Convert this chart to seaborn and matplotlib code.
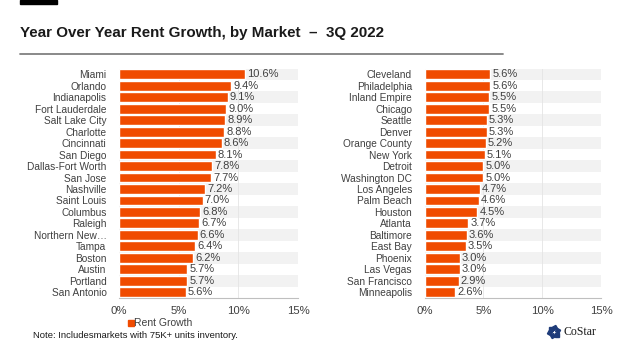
import matplotlib.pyplot as plt
import matplotlib.patches as mpatches
import seaborn as sns
import pandas as pd
import numpy as np

sns.set_style("white")
plt.rcParams['font.family'] = ['Liberation Sans', 'DejaVu Sans']

# dados
mercados_esq = ["Miami", "Orlando", "Indianapolis", "Fort Lauderdale", "Salt Lake City",
                "Charlotte", "Cincinnati", "San Diego", "Dallas-Fort Worth", "San Jose",
                "Nashville", "Saint Louis", "Columbus", "Raleigh", "Northern New\u2026",
                "Tampa", "Boston", "Austin", "Portland", "San Antonio"]
valores_esq = [10.6, 9.4, 9.1, 9.0, 8.9, 8.8, 8.6, 8.1, 7.8, 7.7,
               7.2, 7.0, 6.8, 6.7, 6.6, 6.4, 6.2, 5.7, 5.7, 5.6]

mercados_dir = ["Cleveland", "Philadelphia", "Inland Empire", "Chicago", "Seattle",
                "Denver", "Orange County", "New York", "Detroit", "Washington DC",
                "Los Angeles", "Palm Beach", "Houston", "Atlanta", "Baltimore",
                "East Bay", "Phoenix", "Las Vegas", "San Francisco", "Minneapolis"]
valores_dir = [5.6, 5.6, 5.5, 5.5, 5.3, 5.3, 5.2, 5.1, 5.0, 5.0,
               4.7, 4.6, 4.5, 3.7, 3.6, 3.5, 3.0, 3.0, 2.9, 2.6]

xticks = [0, 5, 10, 15]
cor_barra = "#F04B00"
cor_texto = "#404040"

fig = plt.figure(figsize=(6.24, 3.51), dpi=100)
ax1 = fig.add_axes([119/624, 1 - 298/351, 179/624, 229.5/351])
ax2 = fig.add_axes([424.5/624, 1 - 298/351, 176.5/624, 229.5/351])


def painel(ax, mercados, valores):
    df = pd.DataFrame({"mercado": mercados, "valor": valores})
    n = len(df)
    # faixas alternadas
    for i in range(0, n, 2):
        ax.axhspan(i - 0.5, i + 0.5, color="#F2F2F2", zorder=0, lw=0)
    for x in xticks[1:]:
        ax.axvline(x, color="#E4E4E4", lw=0.6, zorder=0.5)
    sns.barplot(data=df, x="valor", y="mercado", orient="h", color=cor_barra,
                width=0.86, saturation=1, ax=ax, zorder=2)
    ax.bar_label(ax.containers[0], labels=[f"{v:.1f}%" for v in valores],
                 padding=1.5, fontsize=8, color=cor_texto)
    ax.set_xlim(0, 15)
    ax.set_ylim(n - 0.5, -0.5)
    ax.set_xticks(xticks)
    ax.set_xticklabels([f"{x}%" for x in xticks])
    ax.set_xlabel("")
    ax.set_ylabel("")
    ax.tick_params(axis="y", length=0, pad=9, labelsize=7.3, labelcolor=cor_texto)
    ax.tick_params(axis="x", length=3, width=0.6, color="#BFBFBF", pad=2.5,
                   labelsize=8.2, labelcolor=cor_texto)
    for lado in ["top", "right", "left"]:
        ax.spines[lado].set_visible(False)
    ax.spines["bottom"].set_color("#BFBFBF")
    ax.spines["bottom"].set_linewidth(0.8)


painel(ax1, mercados_esq, valores_esq)
painel(ax2, mercados_dir, valores_dir)

# titulo e decoracao
fig.text(20/624, 1 - 37/351, "Year Over Year Rent Growth, by Market  \u2013  3Q 2022",
         fontsize=10.9, fontweight="bold", color="#1a1a1a", va="baseline")
fig.add_artist(plt.Line2D([20/624, 503/624], [1 - 53.5/351, 1 - 53.5/351],
                          color="#808080", lw=1.3))
fig.add_artist(mpatches.Rectangle((20/624, 1 - 4/351), 37/624, 4/351,
                                  color="black", transform=fig.transFigure))

# legenda
fig.add_artist(mpatches.Rectangle((128/624, 1 - 326/351), 5.5/624, 6/351,
                                  color=cor_barra, transform=fig.transFigure))
fig.text(134.5/624, 1 - 323/351, "Rent Growth", fontsize=7.5, color=cor_texto, va="center")
fig.text(33/624, 1 - 336/351, "Note: Includesmarkets with 75K+ units inventory.",
         fontsize=6.8, color="#1a1a1a", va="center")

# logo CoStar
for k in range(6):
    ang = np.deg2rad(k * 60 + 15)
    fig.add_artist(mpatches.RegularPolygon((554 + 4.2*np.cos(ang), (351 - 332) + 4.2*np.sin(ang)),
                                           numVertices=4, radius=2.6,
                                           orientation=ang, color="#1F3C7A",
                                           transform=None))
fig.text(563/624, 1 - 332/351, "CoStar", fontsize=8.5, family="Liberation Serif",
         color="#1a1a1a", va="center")

plt.savefig("out.png", dpi=100)
plt.close()
